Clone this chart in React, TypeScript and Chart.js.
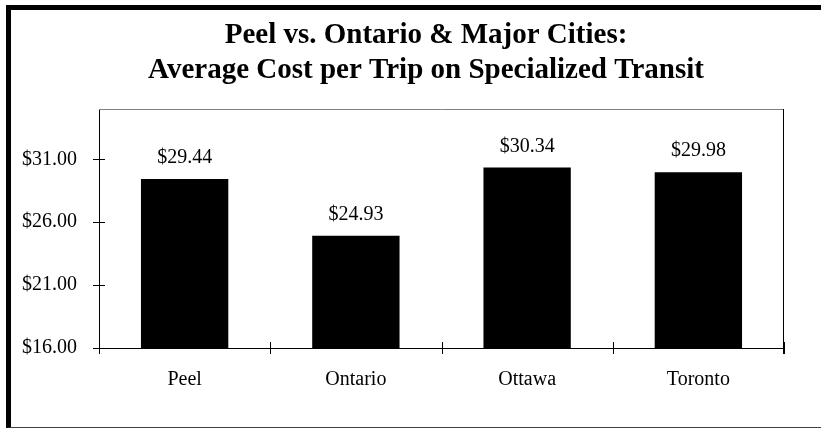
import React, { useEffect, useRef } from "react";
import { Chart, registerables } from "chart.js";

Chart.register(...registerables);

const categories = ["Peel", "Ontario", "Ottawa", "Toronto"];
const costs = [29.44, 24.93, 30.34, 29.98];
const valueLabels = ["$29.44", "$24.93", "$30.34", "$29.98"];
const yTickValues = [16, 21, 26, 31];
const titleLines = [
  "Peel vs. Ontario & Major Cities:",
  "Average Cost per Trip on Specialized Transit",
];

const SERIF = '"Liberation Serif", "Times New Roman", Times, serif';

const decorPlugin = {
  id: "decor",
  afterDatasetsDraw(chart: any) {
    const ctx = chart.ctx;
    const meta = chart.getDatasetMeta(0);
    ctx.save();
    ctx.font = `20px ${SERIF}`;
    ctx.fillStyle = "#000";
    ctx.textAlign = "center";
    ctx.textBaseline = "middle";
    meta.data.forEach((bar: any, i: number) => {
      ctx.fillText(valueLabels[i], bar.x, bar.y - 21);
    });
    ctx.restore();
  },
  afterDraw(chart: any) {
    const { ctx, chartArea: a, scales } = chart;
    const line = (x1: number, y1: number, x2: number, y2: number) => {
      ctx.beginPath();
      ctx.moveTo(x1, y1);
      ctx.lineTo(x2, y2);
      ctx.stroke();
    };
    ctx.save();
    // title
    ctx.font = `bold 29px ${SERIF}`;
    ctx.fillStyle = "#000";
    ctx.textAlign = "center";
    ctx.textBaseline = "alphabetic";
    ctx.fillText(titleLines[0], 426, 43);
    ctx.fillText(titleLines[1], 426, 78);
    // plot box
    ctx.lineWidth = 1;
    ctx.strokeStyle = "#808080";
    line(a.left, a.top + 0.5, a.right, a.top + 0.5);
    ctx.strokeStyle = "#000";
    line(a.right - 0.5, a.top, a.right - 0.5, a.bottom + 6);
    const y = scales.y;
    y.ticks.forEach((t: any) => {
      const py = Math.round(y.getPixelForValue(t.value)) + 0.5;
      line(a.left - 6, py, a.left + 6, py);
    });
    const x = scales.x;
    for (let i = 0; i <= categories.length; i++) {
      const px = Math.round(x.getPixelForValue(i - 0.5)) + 0.5;
      line(px, a.bottom - 6, px, a.bottom + 6);
    }
    ctx.restore();
  },
};

export default function App() {
  const canvasRef = useRef<HTMLCanvasElement>(null);

  useEffect(() => {
    if (!canvasRef.current) return;
    const chart = new Chart(canvasRef.current, {
      type: "bar",
      data: {
        labels: categories,
        datasets: [
          {
            data: costs,
            backgroundColor: "#000",
            borderColor: "#000",
            borderWidth: 0,
            barPercentage: 0.51,
            categoryPercentage: 1,
            yAxisID: "y",
          },
        ],
      },
      options: {
        responsive: false,
        animation: false,
        devicePixelRatio: 1,
        layout: { padding: { left: 0, right: 0, top: 109, bottom: 21 } },
        plugins: {
          legend: { display: false },
          tooltip: { enabled: false },
          title: { display: false },
        },
        scales: {
          x: {
            type: "category",
            position: "bottom",
            grid: { display: false, drawTicks: false },
            border: { display: true, color: "#000", width: 1 },
            ticks: {
              color: "#000",
              font: { family: SERIF, size: 20 },
              padding: 20,
              maxRotation: 0,
            },
            afterFit(s: any) {
              s.height = 60;
            },
          },
          y: {
            type: "linear",
            position: "left",
            min: 16,
            max: 35,
            grid: { display: false, drawTicks: false },
            border: { display: true, color: "#000", width: 1 },
            ticks: {
              color: "#000",
              font: { family: SERIF, size: 20 },
              padding: 22,
              callback: (v: any) => "$" + Number(v).toFixed(2),
            },
            afterBuildTicks(s: any) {
              s.ticks = yTickValues.map((v) => ({ value: v }));
            },
            afterFit(s: any) {
              s.width = 99;
            },
          },
          yRight: {
            type: "linear",
            position: "right",
            min: 16,
            max: 35,
            grid: { display: false, drawTicks: false },
            border: { display: false },
            ticks: { display: false },
            afterFit(s: any) {
              s.width = 37;
            },
          },
        },
      },
      plugins: [decorPlugin],
    } as any);
    return () => chart.destroy();
  }, []);

  return (
    <div
      style={{
        position: "absolute",
        left: 0,
        top: 0,
        width: 821,
        height: 429,
        overflow: "hidden",
        background: "#fff",
      }}
    >
      <div
        style={{
          position: "absolute",
          left: 6,
          top: 5,
          width: 830,
          height: 423,
          boxSizing: "border-box",
          borderTop: "5px solid #000",
          borderLeft: "5px solid #000",
          borderBottom: "1px solid #404040",
        }}
      />
      <canvas
        ref={canvasRef}
        width={821}
        height={429}
        style={{ position: "absolute", left: 0, top: 0, width: 821, height: 429 }}
      />
    </div>
  );
}
